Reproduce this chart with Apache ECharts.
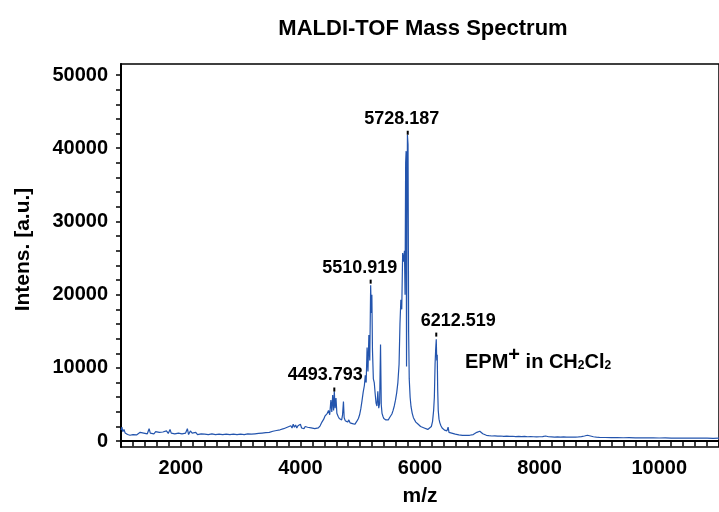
<!DOCTYPE html>
<html><head><meta charset="utf-8">
<script src="https://cdn.jsdelivr.net/npm/echarts@6/dist/echarts.min.js"></script>
<style>html,body{margin:0;padding:0;background:#fff}#c{width:719px;height:512px}</style>
</head><body><div id="c"></div>
<script>
// m/z, intensity pairs
const spectrum = [
[1000,1500],[1015,1900],[1030,1300],[1050,1600],[1070,1100],[1090,1300],[1110,900],[1130,1100],[1150,800],[1170,1000],
[1200,900],[1230,1100],[1260,850],[1290,1000],[1320,1200],[1350,950],[1380,1100],[1410,1300],[1440,1000],[1470,1700],
[1490,1100],[1520,1200],[1550,1000],[1580,1300],[1610,1100],[1640,1200],[1670,1000],[1700,1250],[1730,1100],[1760,1400],
[1790,1050],[1820,1600],[1840,1100],[1870,1300],[1900,1000],[1930,1200],[1960,1100],[1990,1350],[2020,1000],[2050,1200],
[2080,1100],[2110,1700],[2130,900],[2160,1400],[2190,1100],[2220,1000],[2250,1200],[2280,900],[2310,1100],[2340,1000],
[2370,1200],[2400,950],[2430,1100],[2460,900],[2490,1050],[2520,1000],[2550,1150],[2580,900],[2610,1050],[2640,950],
[2670,1100],[2700,900],[2730,1000],[2760,950],[2790,1100],[2820,900],[2850,1000],[2880,950],[2910,1050],[2940,900],
[2970,1000],[3000,950],[3030,1050],[3060,900],[3090,1000],[3120,1000],[3150,1100],[3180,950],[3210,1050],[3240,1000],
[3270,1100],[3300,1050],[3330,1150],[3360,1100],[3390,1200],[3420,1150],[3450,1250],[3480,1200],[3510,1300],[3540,1350],
[3570,1300],[3600,1450],[3630,1400],[3660,1550],[3690,1500],[3720,1700],[3750,1600],[3780,1900],[3810,1750],[3840,2100],
[3860,1800],[3880,2300],[3900,1900],[3920,2200],[3940,1800],[3960,2100],[3980,1900],[4000,2300],[4020,1800],[4040,2000],
[4060,1700],[4080,2000],[4100,1800],[4120,1900],[4150,1700],[4180,1800],[4210,1600],[4240,1700],[4270,1600],[4300,1800],
[4330,2100],[4360,2600],[4390,3000],[4410,3400],[4430,3200],[4450,3800],[4470,4200],[4490,3600],[4510,5600],[4525,4000],
[4540,6300],[4555,4200],[4567,6800],[4580,4500],[4595,5900],[4610,3800],[4630,3400],[4650,3100],[4670,3300],[4690,2900],
[4705,3600],[4720,5400],[4732,3200],[4750,2800],[4770,3000],[4790,2600],[4810,2900],[4830,2500],[4850,2700],[4870,2400],
[4890,2600],[4910,2300],[4930,2500],[4950,2800],[4970,3100],[4990,3600],[5010,4400],[5030,5500],[5050,6700],[5070,7600],
[5085,9000],[5100,8000],[5115,12800],[5130,9500],[5145,14500],[5160,11000],[5175,21300],[5185,17500],[5195,20000],[5205,12500],
[5220,8500],[5235,8000],[5250,6500],[5265,5200],[5280,4800],[5295,6800],[5310,4500],[5325,5200],[5340,13200],[5352,5000],
[5365,3800],[5380,3400],[5395,3100],[5410,3300],[5430,2900],[5450,3100],[5470,2900],[5490,3200],[5510,3300],[5530,3700],
[5550,4200],[5570,4800],[5590,5600],[5610,6600],[5630,8000],[5650,10500],[5665,16000],[5680,19300],[5695,18000],[5710,25700],
[5725,24500],[5740,26000],[5750,20000],[5760,38000],[5768,39600],[5775,10200],[5782,30000],[5790,41800],[5800,40500],[5810,14800],
[5820,8500],[5835,6000],[5850,4700],[5870,3800],[5890,3200],[5910,3000],[5930,2600],[5950,2500],[5970,2300],[5990,2200],
[6010,2000],[6040,1900],[6070,1800],[6100,1700],[6130,1600],[6160,1700],[6190,2000],[6210,2700],[6228,4200],[6240,6000],
[6252,10500],[6262,12500],[6272,13900],[6280,11000],[6288,11800],[6296,7000],[6305,4200],[6318,3000],[6332,2500],[6350,2100],
[6370,1800],[6390,1600],[6410,1500],[6430,1700],[6450,1400],[6470,1900],[6485,1200],[6500,1300],[6530,1100],[6560,1000],
[6590,950],[6620,900],[6650,850],[6680,900],[6710,800],[6740,850],[6770,800],[6800,850],[6830,800],[6860,850],
[6890,900],[6920,1000],[6950,1200],[6980,1400],[7000,1350],[7020,1200],[7050,1000],[7080,850],[7110,800],[7150,750],
[7200,700],[7250,720],[7300,680],[7350,700],[7400,650],[7450,680],[7500,650],[7550,670],[7600,630],[7650,650],
[7700,620],[7750,640],[7800,600],[7850,620],[7900,600],[7950,580],[8000,600],[8050,620],[8100,700],[8150,600],
[8200,580],[8250,560],[8300,580],[8350,550],[8400,570],[8450,540],[8500,560],[8550,540],[8600,560],[8650,580],
[8700,620],[8750,700],[8800,800],[8850,700],[8900,600],[8950,550],[9000,520],[9100,500],[9200,480],[9300,500],
[9400,460],[9500,470],[9600,450],[9700,460],[9800,440],[9900,450],[10000,430],[10100,440],[10200,420],[10300,430],
[10400,410],[10500,420],[10600,400],[10700,410],[10800,400],[10900,390],[11000,400]
];
const peakMz   = [4567, 5175, 5795, 6272];
const peakTop  = [7050, 21780, 42110, 14550];
const peakText = ['4493.793', '5510.919', '5728.187', '6212.519'];
const xLabelValues = [2000, 4000, 6000, 8000, 10000];
const yLabelValues = [0, 10000, 20000, 30000, 40000, 50000];
const xTickStep = 200, yTickStep = 2000;

const xTickValues = []; for (let v = 1000; v <= 11000; v += xTickStep) xTickValues.push(v);
const yTickValues = []; for (let v = 0; v <= 50000; v += yTickStep) yTickValues.push(v);

const FONT = "'Liberation Sans', Arial, sans-serif";
const labelDx = [-9, -11, -6, 22];
const plain = v => String(v);

const chart = echarts.init(document.getElementById('c'), null, {renderer: 'canvas'});
chart.setOption({
  animation: false,
  backgroundColor: '#fff',
  title: {
    text: 'MALDI-TOF Mass Spectrum', left: 418, top: 13, textAlign: 'center',
    textStyle: {fontFamily: FONT, fontWeight: 'bold', fontSize: 22, color: '#000'}
  },
  grid: {left: 121, right: -2, top: 64, bottom: 65, show: true, borderColor: '#000', borderWidth: 1.5, backgroundColor: 'transparent'},
  xAxis: {
    type: 'value', min: 1000, max: 11000,
    name: 'm/z', nameLocation: 'middle', nameGap: 39,
    nameTextStyle: {fontFamily: FONT, fontWeight: 'bold', fontSize: 21, color: '#000'},
    axisLine: {lineStyle: {color: '#000', width: 2}},
    axisTick: {customValues: xTickValues, length: 5, lineStyle: {color: '#000', width: 1.5}},
    axisLabel: {customValues: xLabelValues, formatter: plain, margin: 11, fontFamily: FONT, fontWeight: 'bold', fontSize: 20, color: '#000'},
    splitLine: {show: false}
  },
  yAxis: {
    type: 'value', min: -800, max: 51500,
    name: 'Intens. [a.u.]', nameLocation: 'middle', nameGap: 87,
    nameTextStyle: {fontFamily: FONT, fontWeight: 'bold', fontSize: 21, color: '#000', padding: [0, 0, 0, 12]},
    axisLine: {show: true, lineStyle: {color: '#000', width: 2}},
    axisTick: {show: true, customValues: yTickValues, length: 5, lineStyle: {color: '#000', width: 1.5}},
    axisLabel: {customValues: yLabelValues, formatter: plain, margin: 13, fontFamily: FONT, fontWeight: 'bold', fontSize: 20, color: '#000'},
    splitLine: {show: false}
  },
  graphic: [{
    type: 'text', left: 465, top: 345,
    style: {
      text: '{a|EPM}{p|+}{a| in CH}{s|2}{a|Cl}{s|2}',
      rich: {
        a: {fontFamily: FONT, fontWeight: 'bold', fontSize: 20, color: '#000', verticalAlign: 'bottom', lineHeight: 27},
        p: {fontFamily: FONT, fontWeight: 'bold', fontSize: 20, color: '#000', verticalAlign: 'top', lineHeight: 27, padding: [0, 0, 7, 0]},
        s: {fontFamily: FONT, fontWeight: 'bold', fontSize: 12, color: '#000', verticalAlign: 'bottom', lineHeight: 27}
      }
    }
  }],
  series: [{
    type: 'line', data: spectrum, showSymbol: false, symbol: 'none',
    lineStyle: {color: '#2354ad', width: 1.2}, z: 2
  }, {
    type: 'scatter', symbol: 'rect', symbolSize: [2, 4], itemStyle: {color: '#000', opacity: 1}, z: 3,
    label: {show: true, position: 'top', distance: 3, fontFamily: FONT, fontWeight: 'bold', fontSize: 18, color: '#000', opacity: 1},
    data: peakMz.map((m, i) => ({
      value: [m, peakTop[i]],
      label: {offset: [labelDx[i], 0], formatter: peakText[i]}
    }))
  }]
});
</script>
</body></html>
